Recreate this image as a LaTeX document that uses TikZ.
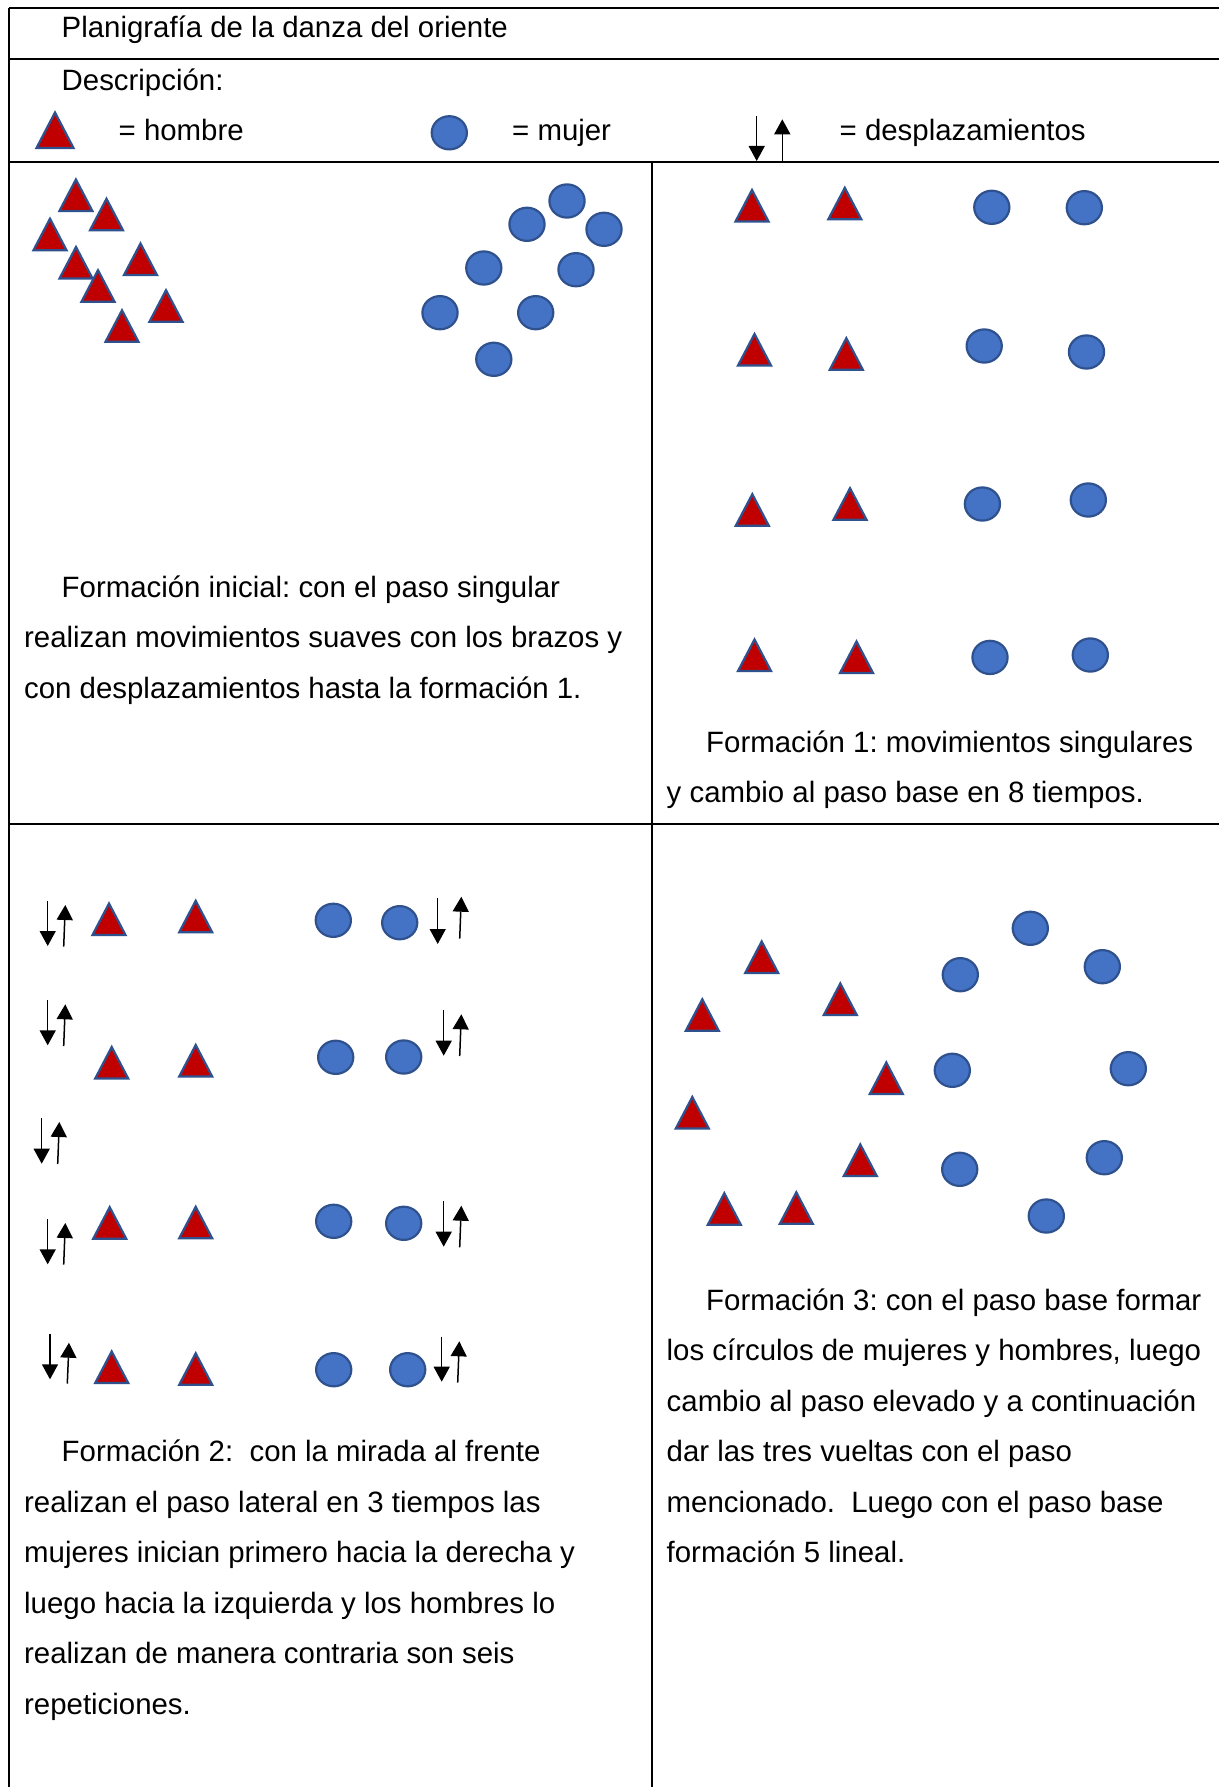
\documentclass[tikz,border=0pt]{standalone}
\usepackage{fontspec}
\setmainfont{Liberation Sans}
\usetikzlibrary{arrows.meta}
\definecolor{manfill}{HTML}{C00000}
\definecolor{shapeline}{HTML}{2F528F}
\definecolor{womanfill}{HTML}{4472C4}
\frenchspacing
\tikzset{
  rule/.style={line width=2.4pt, draw=black},
  txt/.style={anchor=base west, inner sep=0pt, font=\fontsize{29.4}{50}\selectfont},
  manshape/.style={line width=2.2pt, draw=shapeline, fill=manfill},
  womanshape/.style={line width=2.2pt, draw=shapeline, fill=womanfill},
  man/.pic={\draw[manshape] (0,-15.5) -- (16.5,16) -- (-16.5,16) -- cycle;},
  bigman/.pic={\draw[manshape] (0,-17.5) -- (18.5,18) -- (-18.5,18) -- cycle;},
  woman/.pic={\draw[womanshape] (0,0) ellipse [x radius=17.6, y radius=16.6];},
  move/.style={line width=1.5pt, draw=black, -{Triangle[width=16pt,length=15pt]}},
}
\begin{document}
\begin{tikzpicture}[x=1pt,y=-1pt]
\useasboundingbox (0,0) rectangle (1219,1787);
\fill[white] (0,0) rectangle (1219,1787);

% table rules
\draw[rule] (9,8) -- (1219,8);
\draw[rule] (9,59) -- (1219,59);
\draw[rule] (9,162) -- (1219,162);
\draw[rule] (9,824) -- (1219,824);
\draw[rule] (9,8) -- (9,1787);
\draw[rule] (652,162) -- (652,1787);

% header
\node[txt] (title) at (61.5,37.5) {Planigrafía de la danza del oriente};
\node[txt] (desc) at (61.5,90.5) {Descripción:};

% legend
\pic at (55,130) {bigman};
\node[txt] (lhombre) at (118.5,140.5) {= hombre};
\pic at (449.3,132.8) {woman};
\node[txt] (lmujer) at (512,140.5) {= mujer};
\draw[move] (756.7,116) -- (756.7,161);
\draw[move] (782.3,162) -- (782.3,119.3);
\node[txt] (ldespl) at (839.5,140.5) {= desplazamientos};

% formacion inicial
\foreach \x/\y in {75.9/195, 106.5/214.3, 50/234.2, 76/262.5, 140.5/259, 98/285.7, 166/305.7, 122/325.8}
  \pic at (\x,\y) {man};
\foreach \x/\y in {567/201, 527/224.3, 604/229.3, 483.8/268, 576/269.7, 440/312.7, 535.7/312.7, 493.8/359.3}
  \pic at (\x,\y) {woman};
\node[txt] (t0a) at (61.5,597.5) {Formación inicial: con el paso singular};
\node[txt] (t0b) at (24,647.9) {realizan movimientos suaves con los brazos y};
\node[txt] (t0c) at (24,698.3) {con desplazamientos hasta la formación 1.};

% formacion 1
\foreach \x/\y in {752/205.5, 844.8/203.3, 754.5/349.5, 846.3/353.7, 752.3/509.7, 850/503.7, 754.5/655, 856.5/657}
  \pic at (\x,\y) {man};
\foreach \x/\y in {991.8/207.3, 1084.3/207.7, 984.2/346, 1086.5/352, 982.4/504, 1088.3/500, 990/657.4, 1090.3/655}
  \pic at (\x,\y) {woman};
\node[txt] (t1a) at (706,752) {Formación 1: movimientos singulares};
\node[txt] (t1b) at (666.5,802.4) {y cambio al paso base en 8 tiempos.};

% formacion 2
\foreach \x/\y in {109/919, 195.7/916.3, 111.7/1062.5, 195.7/1060.5, 109.7/1222.7, 195.7/1222.3, 111.7/1367, 195.7/1368.8}
  \pic at (\x,\y) {man};
\foreach \x/\y in {333.3/920.3, 399.7/922.7, 335.7/1057.3, 403.7/1057, 333.7/1221.3, 403.7/1223.3, 333.7/1369.7, 407.7/1369.7}
  \pic at (\x,\y) {woman};
% lateral steps
\draw[move] (47.7,901) -- (47.7,946);
\draw[move] (63.7,946.7) -- (65.3,905);
\draw[move] (437.7,898.3) -- (437.7,944);
\draw[move] (459.7,938.7) -- (461.3,896.7);
\draw[move] (47.7,1000) -- (47.7,1045.3);
\draw[move] (63.7,1046) -- (65.3,1004.3);
\draw[move] (443.7,1010) -- (443.7,1055.7);
\draw[move] (459.7,1056) -- (461.3,1014.3);
\draw[move] (41.7,1118) -- (41.7,1163.7);
\draw[move] (57.7,1164) -- (59.3,1122);
\draw[move] (47.7,1219) -- (47.7,1264.3);
\draw[move] (63.7,1264.7) -- (65.3,1223);
\draw[move] (443.7,1201) -- (443.7,1246.7);
\draw[move] (459.7,1247.3) -- (461.3,1205.7);
\draw[move] (50,1334) -- (50,1379.3);
\draw[move] (67.3,1383.7) -- (69,1342.7);
\draw[move] (441.7,1336.7) -- (441.7,1381.7);
\draw[move] (457.7,1382.7) -- (459.3,1341.3);
\node[txt] (t2a) at (61.5,1461.5) {Formación 2:\ \ con la mirada al frente};
\node[txt] (t2b) at (24,1512) {realizan el paso lateral en 3 tiempos las};
\node[txt] (t2c) at (24,1562.5) {mujeres inician primero hacia la derecha y};
\node[txt] (t2d) at (24,1613) {luego hacia la izquierda y los hombres lo};
\node[txt] (t2e) at (24,1663.5) {realizan de manera contraria son seis};
\node[txt] (t2f) at (24,1714) {repeticiones.};

% formacion 3
\foreach \x/\y in {761.7/957, 702.3/1014.8, 840.3/999, 886.3/1078, 692.3/1112.5, 860.3/1160, 724.3/1208.7, 796.3/1207.8}
  \pic at (\x,\y) {man};
\foreach \x/\y in {1030.3/928.3, 960.3/974.7, 1102.3/966.7, 952.3/1070.3, 1128.3/1068.7, 1104.3/1157.7, 959.7/1169.3, 1046.3/1216}
  \pic at (\x,\y) {woman};
\node[txt] (t3a) at (706,1310) {Formación 3: con el paso base formar};
\node[txt] (t3b) at (666.5,1360.5) {los círculos de mujeres y hombres, luego};
\node[txt] (t3c) at (666.5,1411) {cambio al paso elevado y a continuación};
\node[txt] (t3d) at (666.5,1461.5) {dar las tres vueltas con el paso};
\node[txt] (t3e) at (666.5,1512) {mencionado.\ \ Luego con el paso base};
\node[txt] (t3f) at (666.5,1562.5) {formación 5 lineal.};
\end{tikzpicture}
\end{document}
